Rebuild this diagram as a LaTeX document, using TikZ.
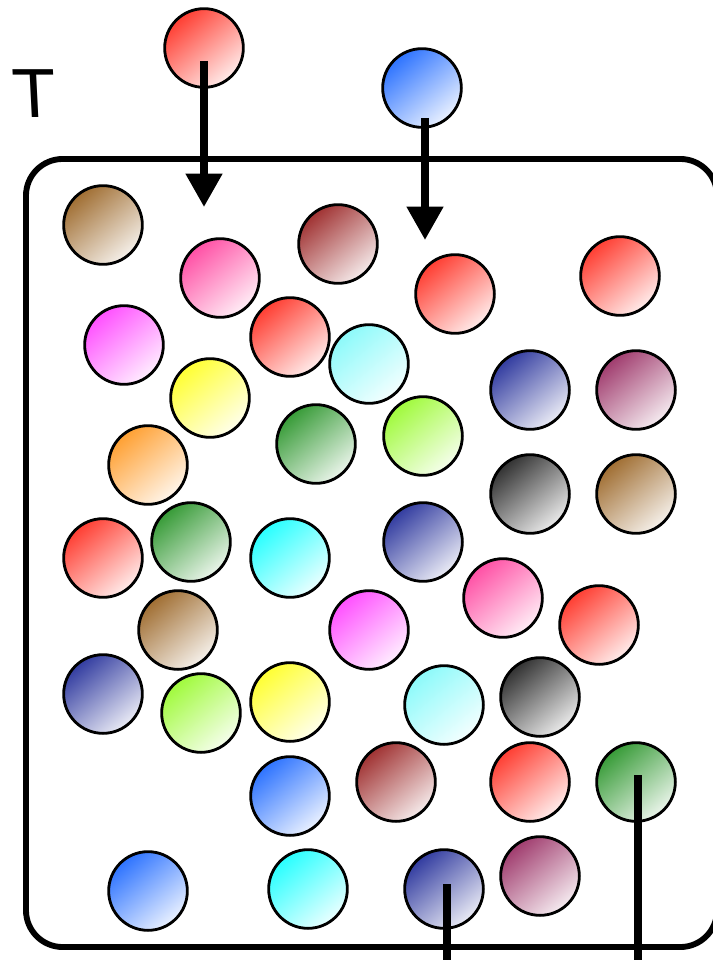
\documentclass[tikz,border=0pt]{standalone}
\usepackage{fontspec}
\usepackage{tikz}
\usepackage{xcolor}
\usetikzlibrary{arrows.meta,positioning,calc}
\newfontfamily\letterfont{DejaVu Sans}
\definecolor{pred}{RGB}{255,62,50}
\definecolor{pblue}{RGB}{45,115,255}
\definecolor{pbrown}{RGB}{160,110,50}
\definecolor{ppink}{RGB}{255,80,165}
\definecolor{pmaroon}{RGB}{160,50,50}
\definecolor{pmagenta}{RGB}{255,80,255}
\definecolor{plcyan}{RGB}{140,250,250}
\definecolor{pcyan}{RGB}{40,255,255}
\definecolor{pyellow}{RGB}{255,255,50}
\definecolor{pnavy}{RGB}{50,60,160}
\definecolor{pplum}{RGB}{160,60,110}
\definecolor{pgreen}{RGB}{55,155,55}
\definecolor{plime}{RGB}{160,250,60}
\definecolor{porange}{RGB}{255,160,50}
\definecolor{pblack}{RGB}{50,50,50}

\begin{document}
\begin{tikzpicture}[
    x=0.03cm, y=-0.03cm,
    ball/.style={circle, draw, line width=2.4pt, inner sep=0pt, minimum size=2.36cm,
        top color=#1, bottom color=#1!10, shading angle=40},
    tank/.style={rectangle, draw, line width=5pt, rounded corners=1.1cm, inner sep=0pt,
        minimum width=20.73cm, minimum height=23.64cm},
    flow/.style={line width=6.5pt, -{Triangle[length=1cm, width=1.05cm]}},
    leave/.style={line width=6.5pt}
]
\clip (0,0) rectangle (713,960);

% Container
\node[tank] (tank) at (371.5,553) {};
\node[font=\letterfont\fontsize{56}{56}\selectfont, inner sep=0pt, xslant=-0.05] (temp) at (34,94) {T};

% Incoming particles
\node[ball=pred] (inred) at (204,48) {};
\node[ball=pblue] (inblue) at (422,88) {};

% Particles inside
\node[ball=pbrown] (b1) at (103,225) {};
\node[ball=ppink] (b2) at (220,278) {};
\node[ball=pmaroon] (b3) at (338,244) {};
\node[ball=pred] (b4) at (455,294) {};
\node[ball=pred] (b5) at (620,276) {};
\node[ball=pmagenta] (b6) at (124,345) {};
\node[ball=pred] (b7) at (290,337) {};
\node[ball=plcyan] (b8) at (369,364) {};
\node[ball=pyellow] (b9) at (210,398) {};
\node[ball=pnavy] (b10) at (530,390) {};
\node[ball=pplum] (b11) at (636,390) {};
\node[ball=pgreen] (b12) at (316,444) {};
\node[ball=plime] (b13) at (423,436) {};
\node[ball=porange] (b14) at (148,465) {};
\node[ball=pblack] (b15) at (530,494) {};
\node[ball=pbrown] (b16) at (636,494) {};
\node[ball=pred] (b17) at (103,558) {};
\node[ball=pgreen] (b18) at (191,542) {};
\node[ball=pcyan] (b19) at (290,558) {};
\node[ball=pnavy] (b20) at (423,542) {};
\node[ball=ppink] (b21) at (503,598) {};
\node[ball=pred] (b22) at (599,625) {};
\node[ball=pbrown] (b23) at (178,630) {};
\node[ball=pmagenta] (b24) at (369,630) {};
\node[ball=pnavy] (b25) at (103,694) {};
\node[ball=plime] (b26) at (201,713) {};
\node[ball=pyellow] (b27) at (290,702) {};
\node[ball=plcyan] (b28) at (444,705) {};
\node[ball=pblack] (b29) at (540,697) {};
\node[ball=pblue] (b30) at (290,796) {};
\node[ball=pmaroon] (b31) at (396,782) {};
\node[ball=pred] (b32) at (530,782) {};
\node[ball=pblue] (b33) at (148,891) {};
\node[ball=pcyan] (b34) at (308,889) {};
\node[ball=pplum] (b35) at (540,876) {};

% Outgoing particles
\node[ball=pgreen] (outgreen) at (636,782) {};
\node[ball=pnavy] (outnavy) at (444,889) {};

% Flow in and out
\coordinate (in1) at (204,207);
\coordinate (in2) at (425,240);
\coordinate (out1) at (447,975);
\coordinate (out2) at (638,975);
\draw[flow] ($(inred.center)+(0,13)$) -- (in1);
\draw[flow] ($(inblue.center)+(3,30)$) -- (in2);
\draw[leave] ($(outnavy.center)+(3,-5)$) -- (out1);
\draw[leave] ($(outgreen.center)+(2,-7)$) -- (out2);

\end{tikzpicture}
\end{document}
